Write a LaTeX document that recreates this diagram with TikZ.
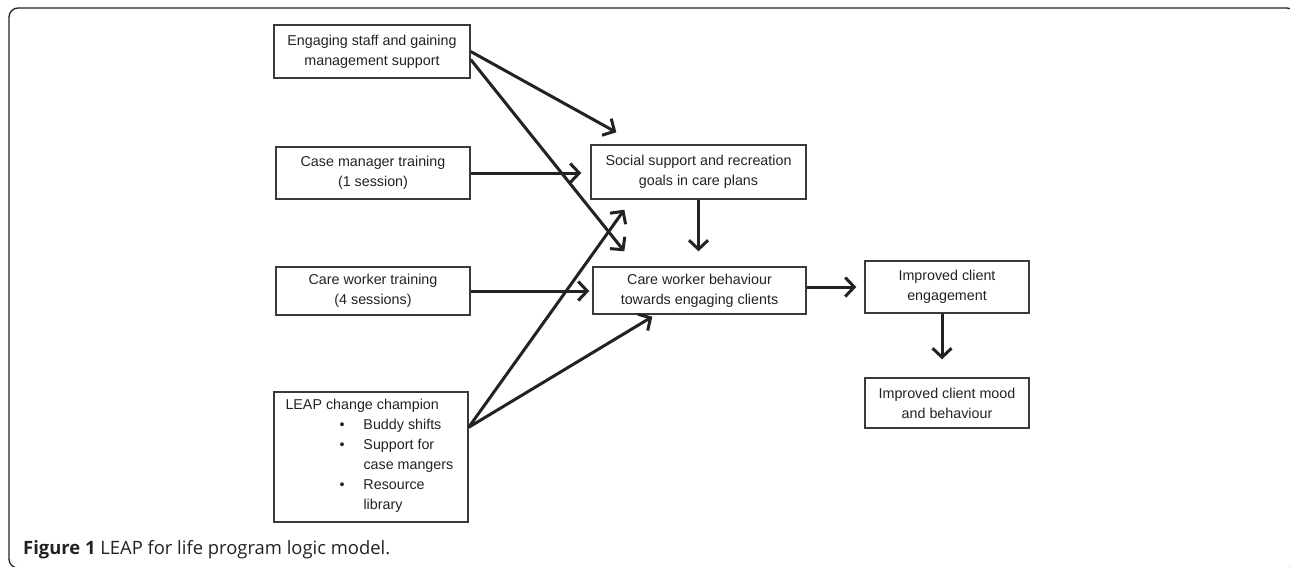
\documentclass[tikz,border=0pt]{standalone}
\usepackage{fontspec}
\setmainfont{Liberation Sans}
\newfontfamily\capfont{Open Sans}
\usetikzlibrary{arrows.meta,calc}
\definecolor{ink}{HTML}{222222}
\definecolor{boxline}{HTML}{3A3A3A}
\begin{document}
\begin{tikzpicture}[x=1pt,y=-1pt,
  every node/.style={font=\fontsize{14.3}{20}\selectfont, text=ink, inner sep=0pt},
  box/.style={draw=boxline, line width=1.4pt, rectangle, align=center},
  arr/.style={draw=ink, line width=3pt, -{Straight Barb[length=9pt,width=19pt,line width=3pt]}}
]
\useasboundingbox (0,0) rectangle (1290,566);
\begin{scope}
\clip (0,0) rectangle (1290,566);
\draw[draw=ink, line width=1.3pt, rounded corners=9pt] (9,8) rectangle (1296,568);
\end{scope}

\node[box, minimum width=196pt, minimum height=53pt] (A) at (372,51.5) {Engaging staff and gaining\\management support};
\node[box, minimum width=194pt, minimum height=52pt] (B) at (373,173) {Case manager training\\(1 session)};
\node[box, minimum width=194pt, minimum height=48pt] (W) at (373,291) {Care worker training\\(4 sessions)};
\node[box, minimum width=194pt, minimum height=130pt] (L) at (371,457) {};
\node[anchor=north west, align=left] (Lt) at ($(L.north west)+(12,4)$) {%
  \renewcommand{\arraystretch}{1}%
  \begin{tabular}{@{}p{54pt}@{}p{24pt}@{}l@{}}
  \multicolumn{3}{@{}l@{}}{LEAP change champion}\\
  & \textbullet & Buddy shifts\\
  & \textbullet & Support for\\
  & & case mangers\\
  & \textbullet & Resource\\
  & & library
  \end{tabular}};
\node[box, minimum width=215pt, minimum height=54pt] (S) at (698.5,172) {Social support and recreation\\goals in care plans};
\node[box, minimum width=213pt, minimum height=47pt] (C) at (699.5,290.5) {Care worker behaviour\\towards engaging clients};
\node[box, minimum width=164pt, minimum height=52pt] (E) at (947,287) {Improved client\\engagement};
\node[box, minimum width=164pt, minimum height=50pt] (M) at (947,403) {Improved client mood\\and behaviour};

\coordinate (a2) at ($(A.east)+(0,8)$);
\coordinate (tAS) at ($(S.north west)+(26,-12)$);
\coordinate (tAC) at ($(C.north west)+(32,-15)$);
\coordinate (Lo) at ($(L.north east)+(0,36)$);
\coordinate (tLS) at ($(S.south west)+(34,10)$);
\coordinate (tLC) at ($(C.south west)+(60,2)$);
\coordinate (e1) at ($(E.south)+(-5,0)$);

\draw[arr] (A.east) -- (tAS);
\draw[arr] (a2) -- (tAC);
\draw[arr, shorten >=9pt] (B.east) -- (B.east -| S.west);
\draw[arr, shorten >=3pt] (W.east) -- (W.east -| C.west);
\draw[arr] (Lo) -- (tLS);
\draw[arr] (Lo) -- (tLC);
\draw[arr, shorten >=15pt] (S.south) -- (S.south |- C.north);
\draw[arr, shorten >=8pt] (C.east |- E.west) -- (E.west);
\draw[arr, shorten >=18pt] (e1) -- (e1 |- M.north);

\node[anchor=base west, font=\capfont\fontsize{18.4}{21}\selectfont, text=ink] (cap) at (23,554) {\textbf{Figure 1} LEAP for life program logic model.};
\end{tikzpicture}
\end{document}
